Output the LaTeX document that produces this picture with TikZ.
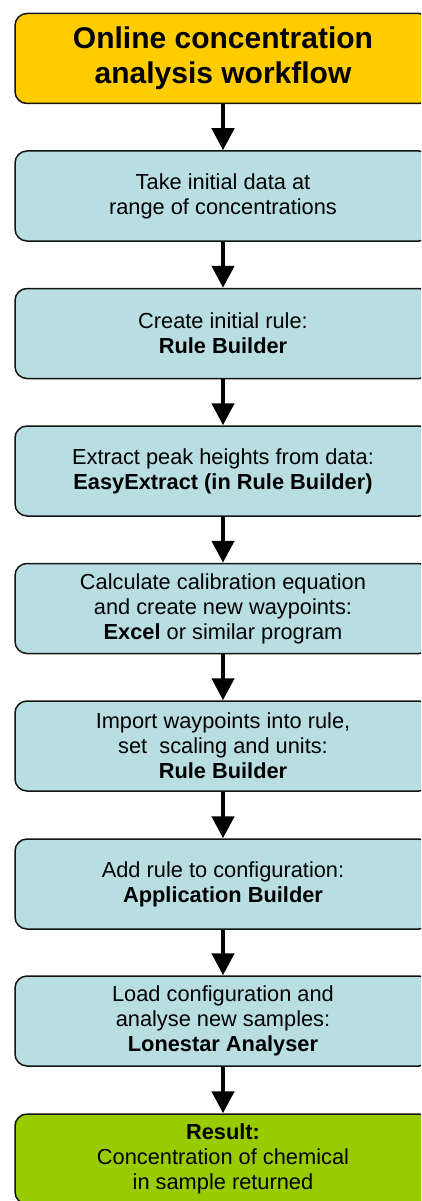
\documentclass[tikz,border=0pt]{standalone}
\usepackage{fontspec}
\setmainfont{Liberation Sans}
\usetikzlibrary{arrows.meta}
\definecolor{titlefill}{RGB}{255,204,0}
\definecolor{stepfill}{RGB}{184,222,226}
\definecolor{resultfill}{RGB}{153,204,0}
\definecolor{edgecol}{RGB}{20,20,20}
\tikzset{
  flowbox/.style={draw=edgecol, line width=1.5pt, rounded corners=12pt,
    minimum width=416pt, minimum height=90pt, align=center, inner sep=0pt,
    text=black, font=\fontsize{21.8}{25}\selectfont},
  stepbox/.style={flowbox, fill=stepfill},
  titlebox/.style={flowbox, fill=titlefill, font=\fontsize{30}{35}\selectfont\bfseries},
  resultbox/.style={flowbox, fill=resultfill},
  flowarrow/.style={line width=4.5pt, -{Triangle[width=22pt,length=22pt]}, black}
}
\begin{document}
\begin{tikzpicture}[x=1pt,y=-1pt]
\useasboundingbox (0,0) rectangle (421,1201);
\clip (0,0) rectangle (421,1201);
\node[titlebox] (b1) at (223,58.5) {Online concentration\\analysis workflow};
\node[stepbox] (b2) at (223,196) {Take initial data at\\range of concentrations};
\node[stepbox] (b3) at (223,333.5) {Create initial rule:\\\textbf{Rule Builder}};
\node[stepbox] (b4) at (223,471) {Extract peak heights from data:\\\textbf{EasyExtract (in Rule Builder)}};
\node[stepbox] (b5) at (223,608.5) {Calculate calibration equation\\and create new waypoints:\\\textbf{Excel} or similar program};
\node[stepbox] (b6) at (223,746) {Import waypoints into rule,\\set\ \ scaling and units:\\\textbf{Rule Builder}};
\node[stepbox] (b7) at (223,884) {Add rule to configuration:\\\textbf{Application Builder}};
\node[stepbox] (b8) at (223,1021) {Load configuration and\\analyse new samples:\\\textbf{Lonestar Analyser}};
\node[resultbox] (b9) at (223,1159) {\textbf{Result:}\\Concentration of chemical\\in sample returned};
\draw[flowarrow] (b1.south) -- (b2.north);
\draw[flowarrow] (b2.south) -- (b3.north);
\draw[flowarrow] (b3.south) -- (b4.north);
\draw[flowarrow] (b4.south) -- (b5.north);
\draw[flowarrow] (b5.south) -- (b6.north);
\draw[flowarrow] (b6.south) -- (b7.north);
\draw[flowarrow] (b7.south) -- (b8.north);
\draw[flowarrow] (b8.south) -- (b9.north);
\end{tikzpicture}
\end{document}
